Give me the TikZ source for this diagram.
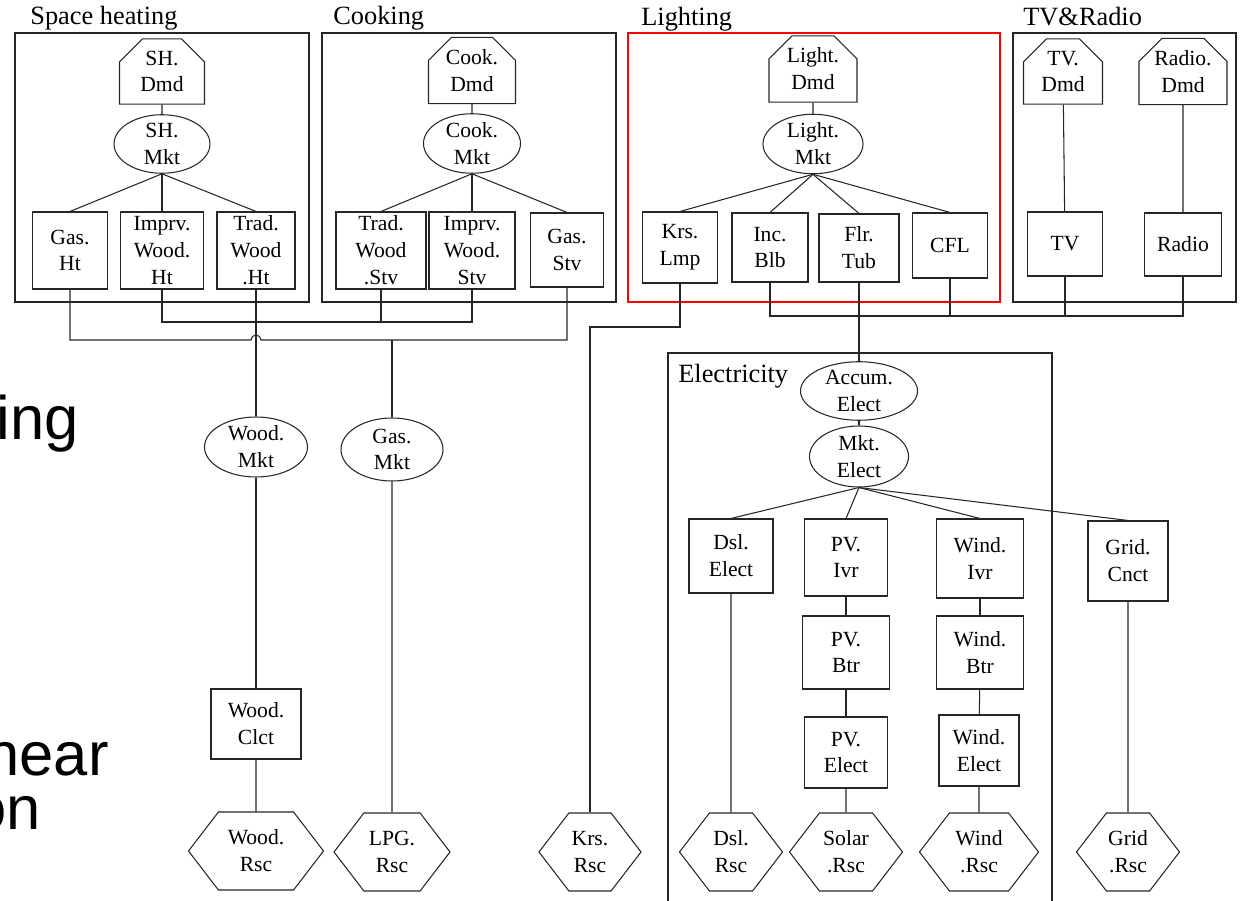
\documentclass[tikz,border=0pt]{standalone}
\usepackage{fontspec}
\setmainfont{Liberation Serif}
\newfontfamily\slidefont{Liberation Sans}
\usetikzlibrary{shapes.geometric,shapes.misc,shapes.symbols}

\begin{document}
\begin{tikzpicture}[x=0.2mm,y=-0.2mm,
  every node/.style={font=\fontsize{12.3}{15.3}\selectfont,align=center,inner sep=0pt},
  link/.style={draw=black!85,line width=0.6pt},
  tech/.style={link,rectangle,minimum width=16mm,minimum height=15.4mm},
  mkt/.style={link,ellipse,minimum width=19.6mm,minimum height=10mm},
  dmd/.style={link,chamfered rectangle,chamfered rectangle corners={north west,north east},
    chamfered rectangle xsep=2.2mm,chamfered rectangle ysep=2.4mm,minimum width=17.4mm,minimum height=11mm},
  rsc/.style={link,signal,signal to=west and east,signal pointer angle=105,minimum height=15.6mm},
  grp/.style={font=\fontsize{15}{18}\selectfont,anchor=base west},
  big/.style={font=\slidefont\fontsize{35}{40}\selectfont,anchor=base east}]
\useasboundingbox (0,0) rectangle (1241,901);

% leftover slide text
\node[big] (bigA) at (79,440) {ing};
\node[big] (bigB) at (109,776) {near};
\node[big] (bigC) at (41,830) {on};

% group frames
\draw[link] (15,33) rectangle (309,302);
\draw[link] (322,33) rectangle (616,302);
\draw[draw=red,line width=0.6pt] (628,33) rectangle (1000,302);
\draw[link] (1013,33) rectangle (1236,302);
\draw[link] (668,905) -- (668,353) -- (1052,353) -- (1052,905);
\node[grp] (tSH) at (30,25) {Space heating};
\node[grp] (tCK) at (333,25) {Cooking};
\node[grp] (tLT) at (641,26) {Lighting};
\node[grp] (tTV) at (1023,26) {TV\&Radio};
\node[grp] (tEL) at (678,383) {Electricity};

% space heating
\node[dmd,minimum width=17mm] (shdmd) at (162,71.5) {SH.\\Dmd};
\node[mkt,minimum width=19.2mm,minimum height=9.6mm] (shmkt) at (162,144) {SH.\\Mkt};
\node[tech,minimum width=15mm] (gasht) at (70,250.5) {Gas.\\Ht};
\node[tech,minimum width=16.6mm] (impht) at (162,250.5) {Imprv.\\Wood.\\Ht};
\node[tech,minimum width=15.6mm] (tradht) at (256,250.5) {Trad.\\Wood\\.Ht};

% cooking
\node[dmd] (ckdmd) at (472,70.5) {Cook.\\Dmd};
\node[mkt,minimum width=19.4mm,minimum height=9.8mm] (ckmkt) at (472,143.5) {Cook.\\Mkt};
\node[tech,minimum width=18mm] (tradstv) at (381,250.5) {Trad.\\Wood\\.Stv};
\node[tech,minimum width=17.2mm] (impstv) at (472,250.5) {Imprv.\\Wood.\\Stv};
\node[tech,minimum width=14.6mm,minimum height=14.8mm] (gasstv) at (567,250) {Gas.\\Stv};

% lighting
\node[dmd,minimum width=17.6mm,minimum height=10.8mm] (ltdmd) at (813,69) {Light.\\Dmd};
\node[mkt,minimum width=20mm,minimum height=11.6mm] (ltmkt) at (813,144) {Light.\\Mkt};
\node[tech,minimum width=15mm,minimum height=14.2mm] (krslmp) at (680,247.5) {Krs.\\Lmp};
\node[tech,minimum width=15.2mm,minimum height=13.8mm] (incblb) at (770,247.5) {Inc.\\Blb};
\node[tech,minimum width=16mm,minimum height=13.6mm] (flrtub) at (859,248) {Flr.\\Tub};
\node[tech,minimum width=15mm,minimum height=13mm] (cfl) at (950,245.5) {CFL};

% tv and radio
\node[dmd,minimum width=15.8mm] (tvdmd) at (1063,71.5) {TV.\\Dmd};
\node[dmd,minimum width=17.6mm] (radiodmd) at (1183,71.5) {Radio.\\Dmd};
\node[tech,minimum width=15mm,minimum height=12.8mm] (tv) at (1065,244) {TV};
\node[tech,minimum width=15.4mm,minimum height=12.6mm] (radio) at (1183,244.5) {Radio};

% fuels
\node[mkt,minimum width=20.6mm,minimum height=12mm] (woodmkt) at (256,447) {Wood.\\Mkt};
\node[mkt,minimum width=20.4mm,minimum height=12.6mm] (gasmkt) at (392,449.5) {Gas.\\Mkt};
\node[tech,minimum width=18mm,minimum height=14mm] (woodclct) at (256,724) {Wood.\\Clct};
\node[rsc,minimum width=27mm] (woodrsc) at (256,851) {Wood.\\Rsc};
\node[rsc,minimum width=23.2mm] (lpgrsc) at (392,852) {LPG.\\Rsc};
\node[rsc,minimum width=20.4mm] (krsrsc) at (590,852) {Krs.\\Rsc};

% electricity
\node[mkt,minimum width=23.4mm,minimum height=10.4mm] (accum) at (859,391) {Accum.\\Elect};
\node[mkt,minimum width=19.8mm,minimum height=12.2mm] (mktel) at (859,456.5) {Mkt.\\Elect};
\node[tech,minimum width=16.8mm,minimum height=14.8mm] (dslel) at (731,556) {Dsl.\\Elect};
\node[tech,minimum width=16.6mm] (pvivr) at (846,557.5) {PV.\\Ivr};
\node[tech,minimum width=17.4mm,minimum height=15.8mm] (windivr) at (980,558.5) {Wind.\\Ivr};
\node[tech,minimum width=16mm,minimum height=16mm] (gridcnct) at (1128,561) {Grid.\\Cnct};
\node[tech,minimum width=17.4mm,minimum height=14.6mm] (pvbtr) at (846,652.5) {PV.\\Btr};
\node[tech,minimum width=16.6mm,minimum height=14.2mm] (pvel) at (846,752.5) {PV.\\Elect};
\node[tech,minimum width=17.4mm,minimum height=14.6mm] (windbtr) at (980,652.5) {Wind.\\Btr};
\node[tech,minimum width=16mm,minimum height=14.2mm] (windel) at (979,750.5) {Wind.\\Elect};
\node[rsc,minimum width=20.6mm] (dslrsc) at (731,852) {Dsl.\\Rsc};
\node[rsc,minimum width=22.6mm] (solarrsc) at (846,852) {Solar\\.Rsc};
\node[rsc,minimum width=23.8mm] (windrsc) at (979,852) {Wind\\.Rsc};
\node[rsc,minimum width=20.6mm] (gridrsc) at (1128,852) {Grid\\.Rsc};

% links inside the groups
\draw[link] (shdmd) -- (shmkt);
\draw[link] (shmkt.south) -- (gasht.north);
\draw[link] (shmkt.south) -- (impht.north);
\draw[link] (shmkt.south) -- (tradht.north);
\draw[link] (ckdmd) -- (ckmkt);
\draw[link] (ckmkt.south) -- (tradstv.north);
\draw[link] (ckmkt.south) -- (impstv.north);
\draw[link] (ckmkt.south) -- (gasstv.north);
\draw[link] (ltdmd) -- (ltmkt);
\draw[link] (ltmkt.south) -- (krslmp.north);
\draw[link] (ltmkt.south) -- (incblb.north);
\draw[link] (ltmkt.south) -- (flrtub.north);
\draw[link] (ltmkt.south) -- (cfl.north);
\draw[link] (tvdmd) -- (tv);
\draw[link] (radiodmd) -- (radio);

% wood and gas buses
\coordinate (ckbus) at (472,322);
\coordinate (hopL) at (251,340);
\coordinate (hopR) at (261,340);
\draw[link] (gasht.south) |- (hopL) arc[start angle=180,end angle=360,radius=5] -| (gasstv.south);
\draw[link] (impht.south) |- (ckbus) -- (impstv.south);
\draw[link] (tradht.south) -- (tradht.south |- ckbus);
\draw[link] (tradstv.south) -- (tradstv.south |- ckbus);
\draw[link,line width=1.4pt] (tradht.south |- ckbus) -- (woodmkt.north);
\draw[link] (gasmkt.north) -- (gasmkt.north |- hopR);
\draw[link] (woodmkt) -- (woodclct);
\draw[link] (woodclct) -- (woodrsc);
\draw[link] (gasmkt) -- (lpgrsc);

% lighting to supply
\coordinate (krsbend) at (590,327);
\coordinate (elbus) at (1183,316);
\draw[link] (krslmp.south) |- (krsbend) -- (krsrsc.north);
\draw[link] (incblb.south) |- (elbus) -- (radio.south);
\draw[link] (cfl.south) -- (cfl.south |- elbus);
\draw[link] (tv.south) -- (tv.south |- elbus);
\draw[link] (flrtub.south) -- (accum.north);

% electricity chain
\draw[link] (accum) -- (mktel);
\draw[link] (mktel.south) -- (dslel.north);
\draw[link] (mktel.south) -- (pvivr.north);
\draw[link] (mktel.south) -- (windivr.north);
\draw[link] (mktel.south) -- (gridcnct.north);
\draw[link] (dslel) -- (dslrsc);
\draw[link] (pvivr) -- (pvbtr);
\draw[link] (pvbtr) -- (pvel);
\draw[link] (pvel) -- (solarrsc);
\draw[link] (windivr) -- (windbtr);
\draw[link] (windbtr) -- (windel);
\draw[link] (windel) -- (windrsc);
\draw[link] (gridcnct) -- (gridrsc);
\end{tikzpicture}
\end{document}
